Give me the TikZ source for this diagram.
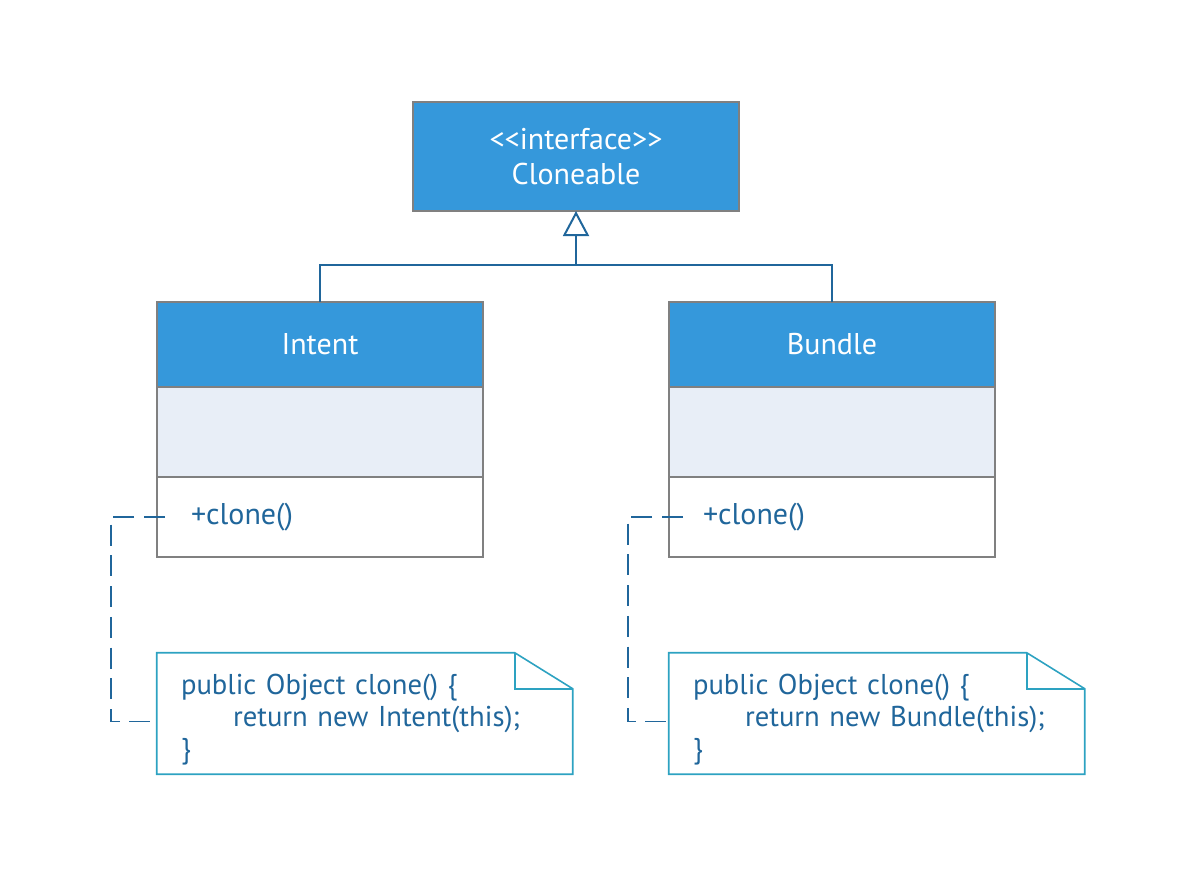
\documentclass[tikz,border=0pt]{standalone}
\usepackage{fontspec}
\setmainfont{PT Sans}
\usepackage{xcolor}
\usetikzlibrary{positioning,arrows.meta}

\definecolor{headblue}{HTML}{3598DB}
\definecolor{attrblue}{HTML}{E8EEF7}
\definecolor{boxgray}{HTML}{808080}
\definecolor{inkblue}{HTML}{20669B}
\definecolor{noteteal}{HTML}{2DA2C1}

\tikzset{
  umlbox/.style={draw=boxgray, line width=1.5pt, outer sep=0pt, minimum width=244.5pt},
  ifacebox/.style={umlbox, fill=headblue, text=white, align=center, minimum height=81.75pt,
    font=\fontsize{22.5}{26}\selectfont},
  classhead/.style={umlbox, fill=headblue, text=white, minimum height=63.75pt,
    font=\fontsize{22.5}{26}\selectfont},
  classattrs/.style={umlbox, fill=attrblue, minimum height=67.5pt},
  classops/.style={umlbox, fill=white, text=inkblue, minimum height=60pt, align=left,
    inner xsep=25.5pt, text width=193.5pt, font=\fontsize{22.5}{26}\selectfont},
  notebox/.style={minimum width=312pt, minimum height=90.75pt, align=left, text=inkblue,
    inner xsep=18pt, text width=276pt, font=\fontsize{21.5}{24}\selectfont},
  notedraw/.style={draw=noteteal, line width=1.2pt, line join=miter},
  dashline/.style={draw=inkblue, line width=1.3pt, dash pattern=on 15.75pt off 7.33pt},
  inherit/.style={draw=inkblue, line width=1.5pt}
}

\begin{document}
\begin{tikzpicture}[x=0.75pt, y=-0.75pt]
\useasboundingbox (0,0) rectangle (1194,878);

\node[ifacebox] (cloneable) at (576,156.5) {<\kern0pt<interface>\kern0pt>\\Cloneable};

\foreach \cls/\cx/\pin/\lead/\gap in {Intent/320/6pt/54/4.5pt, Bundle/832/10.5pt/55/1.5pt} {
  \node[classhead] (\cls) at (\cx,344.5) {\cls};
  \node[classattrs, below=0pt of \cls] (\cls-attrs) {};
  \node[classops, below=0pt of \cls-attrs] (\cls-ops) {+clone()};
  % note with folded corner
  \node[notebox] (\cls-note) at (\cx+45,713.5)
    {\rule{0pt}{24.5pt}public Object clone() \{\\\hspace*{39pt}return new \cls(this);\\\}};
  \draw[notedraw] (\cls-note.south west) -- (\cls-note.north west) -- ++(358,0)
    -- ++(58,36) |- (\cls-note.south west) -- cycle;
  \draw[notedraw] (\cls-note.north west) ++(358,0) -- ++(0,36) -- ++(58,0);
  \draw[dashline] ([xshift=\pin]\cls-ops.west) -- ++(-\lead,0)
    |- ([yshift=-6pt,xshift=-\gap]\cls-note.west);
}

\coordinate (joint) at (576,265);
\draw[inherit] (Intent.north) |- (joint) -| (Bundle.north);
\draw[inherit, -{Triangle[open, length=18.75pt, width=19.5pt]}] (joint) -- (cloneable.south);
\end{tikzpicture}
\end{document}
